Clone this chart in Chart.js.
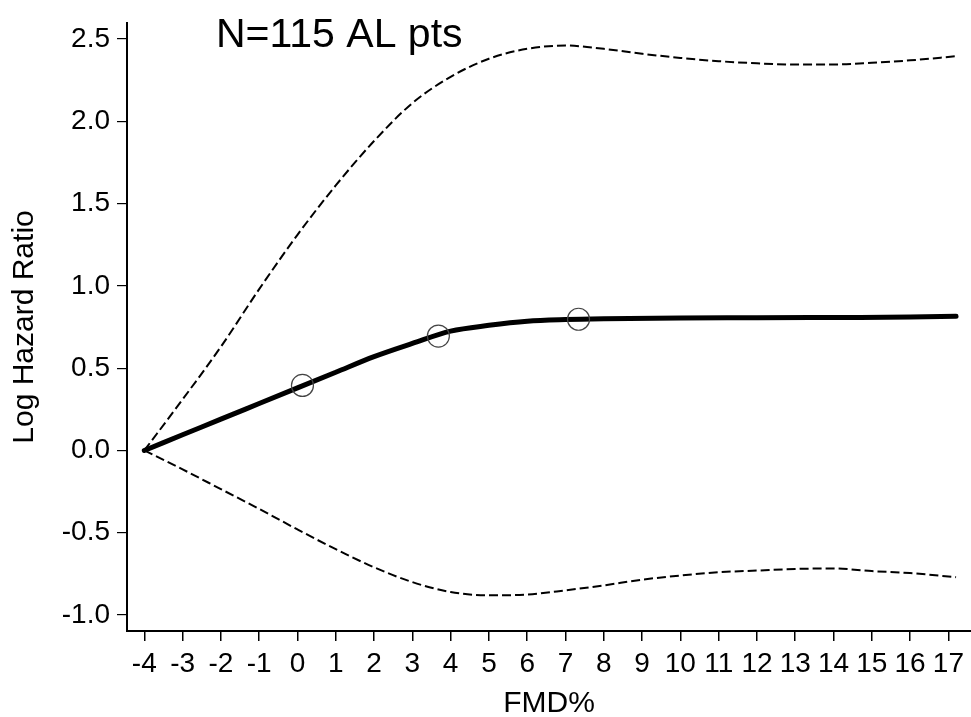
<!DOCTYPE html>
<html>
<head>
<meta charset="utf-8">
<script src="https://cdn.jsdelivr.net/npm/chart.js@4/dist/chart.umd.min.js"></script>
<style>
html,body{margin:0;padding:0;background:#fff;}
#wrap{width:971px;height:717px;}
</style>
</head>
<body>
<div id="wrap"><canvas id="c" width="971" height="717"></canvas></div>
<script>
// ---- data ----
const chartTitle = "N=115 AL pts";
const xAxisTitle = "FMD%";
const yAxisTitle = "Log Hazard Ratio";

const xTickValues = [-4,-3,-2,-1,0,1,2,3,4,5,6,7,8,9,10,11,12,13,14,15,16,17];
const yTickValues = [-1.0,-0.5,0.0,0.5,1.0,1.5,2.0,2.5];

const estX = [-4,-3,-2,-1,0,1,2,3,4,5,6,7,8,10,12,14,16,17.2];
const estY = [0,0.095,0.19,0.285,0.38,0.475,0.57,0.65,0.725,0.76,0.785,0.795,0.80,0.805,0.806,0.808,0.81,0.815];

const upperX = [-4,-3,-2,-1,0,1,2,3,4,5,6,7,8,9,10,11,12,13,14,15,16,17.2];
const upperY = [0,0.31,0.63,0.98,1.31,1.61,1.88,2.11,2.27,2.38,2.44,2.46,2.44,2.41,2.385,2.365,2.352,2.345,2.345,2.355,2.37,2.395];

const lowerX = [-4,-3,-2,-1,0,1,2,3,4,5,6,7,8,9,10,11,12,13,14,15,16,17.2];
const lowerY = [0,-0.115,-0.235,-0.355,-0.48,-0.60,-0.71,-0.80,-0.86,-0.88,-0.875,-0.85,-0.82,-0.785,-0.76,-0.74,-0.73,-0.72,-0.717,-0.733,-0.745,-0.77];

const knotX = [0.13,3.68,7.34];
const knotY = [0.395,0.695,0.797];

const xMin = -4.452, xMax = 17.59;
const yMin = -1.097, yMax = 2.597;

function pts(xs, ys){ return xs.map((x,i)=>({x:x, y:ys[i]})); }

const FONT = '"Liberation Sans", Arial, sans-serif';

const titlePlugin = {
  id: 'plotTitle',
  afterDraw(chart){
    const ctx = chart.ctx;
    ctx.save();
    ctx.font = '41px ' + FONT;
    ctx.fillStyle = '#000';
    ctx.textBaseline = 'alphabetic';
    ctx.textAlign = 'left';
    ctx.fillText(chartTitle, 216, 47);
    ctx.restore();
  }
};

new Chart(document.getElementById('c'), {
  type: 'scatter',
  data: {
    datasets: [
      { data: pts(upperX, upperY), showLine: true, borderColor: '#000', borderWidth: 2,
        borderDash: [9,4], pointRadius: 0, cubicInterpolationMode: 'monotone', fill: false },
      { data: pts(lowerX, lowerY), showLine: true, borderColor: '#000', borderWidth: 2,
        borderDash: [9,4], pointRadius: 0, cubicInterpolationMode: 'monotone', fill: false },
      { data: pts(knotX, knotY), showLine: false, pointRadius: 11, pointBorderWidth: 1.2,
        pointBorderColor: '#444', pointBackgroundColor: 'rgba(0,0,0,0)', pointStyle: 'circle' },
      { data: pts(estX, estY), showLine: true, borderColor: '#000', borderWidth: 5,
        pointRadius: 0, cubicInterpolationMode: 'monotone', fill: false, borderCapStyle: 'round' }
    ]
  },
  options: {
    responsive: false,
    animation: false,
    devicePixelRatio: 1,
    layout: { autoPadding: false, padding: { left: 0, right: 0, top: 23, bottom: 0 } },
    plugins: { legend: { display: false }, tooltip: { enabled: false }, title: { display: false } },
    scales: {
      x: {
        type: 'linear', min: xMin, max: xMax,
        afterBuildTicks(scale){ scale.ticks = xTickValues.map(v=>({value:v})); },
        afterFit(scale){ scale.height = 86; scale.paddingLeft = 0; scale.paddingRight = 0; },
        ticks: { font: { family: FONT, size: 28 }, color: '#000', padding: 6, maxRotation: 0, autoSkip: false,
                 callback: v => String(v) },
        grid: { drawOnChartArea: false, drawTicks: true, tickLength: 10, color: '#000', lineWidth: 1.5 },
        border: { display: true, color: '#000', width: 2 },
        title: { display: true, text: xAxisTitle, color: '#000', font: { family: FONT, size: 30, lineHeight: 0.9 },
                 padding: { top: 0, bottom: 0 } }
      },
      y: {
        type: 'linear', min: yMin, max: yMax,
        afterBuildTicks(scale){ scale.ticks = yTickValues.map(v=>({value:v})); },
        afterFit(scale){ scale.width = 127; scale.paddingTop = 0; scale.paddingBottom = 0; },
        ticks: { font: { family: FONT, size: 28 }, color: '#000', padding: 7, autoSkip: false,
                 callback: v => Number(v).toFixed(1) },
        grid: { drawOnChartArea: false, drawTicks: true, tickLength: 10, color: '#000', lineWidth: 1.2 },
        border: { display: true, color: '#000', width: 2 },
        title: { display: true, text: yAxisTitle, color: '#000', font: { family: FONT, size: 30, lineHeight: 1 },
                 padding: { top: 10, bottom: 0 } }
      }
    }
  },
  plugins: [titlePlugin]
});
</script>
</body>
</html>
